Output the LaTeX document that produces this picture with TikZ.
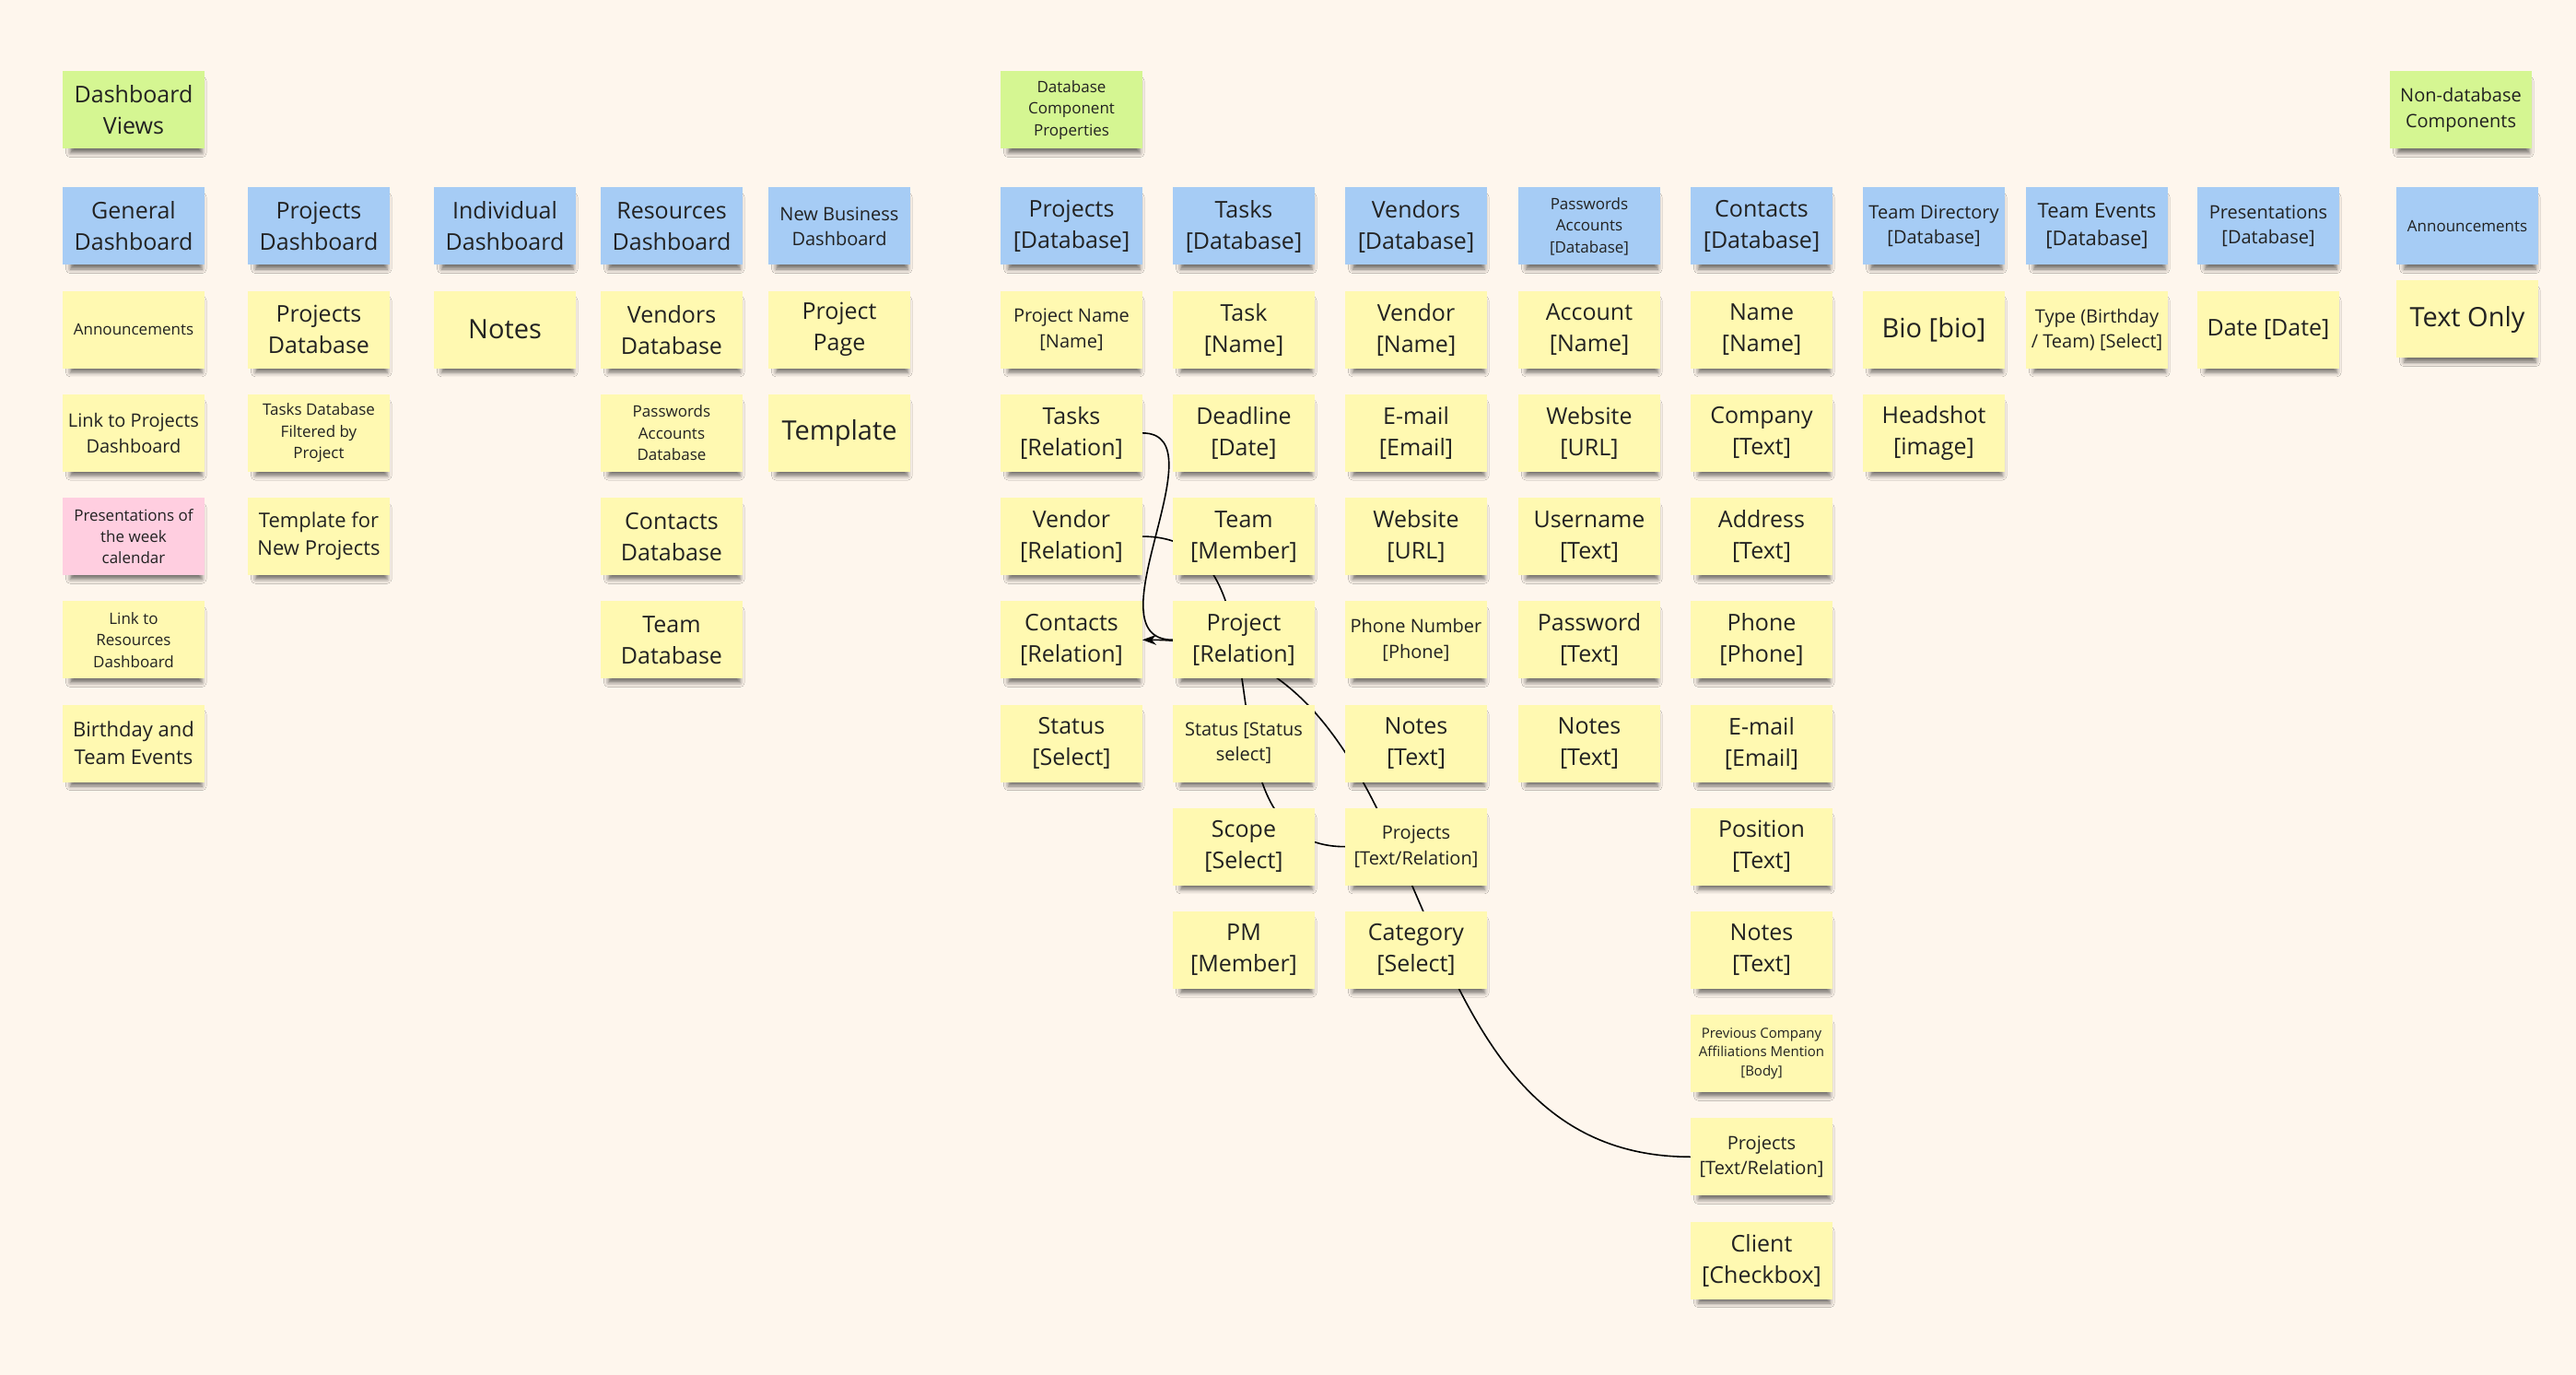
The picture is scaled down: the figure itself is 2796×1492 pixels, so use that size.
\documentclass[tikz,border=0pt]{standalone}
\usepackage{fontspec}
\setmainfont{Open Sans}
\usepackage{tikz}
\usetikzlibrary{positioning, arrows.meta, shadows.blur}
\usepackage{xcolor}

\definecolor{canvas}{RGB}{254,246,237}
\definecolor{stickyyellow}{RGB}{255,249,177}
\definecolor{stickyblue}{RGB}{166,204,245}
\definecolor{stickygreen}{RGB}{213,246,146}
\definecolor{stickypink}{RGB}{255,206,224}
\definecolor{inktext}{RGB}{34,34,34}

\pgfdeclarelayer{bg}
\pgfdeclarelayer{edges}
\pgfsetlayers{bg,edges,main}

\begin{document}
\begin{tikzpicture}[
  x=0.5pt, y=-0.5pt,
  node distance=14.1pt,
  sticky/.style={rectangle, fill=stickyyellow, text=inktext,
    minimum width=77pt, minimum height=42pt, inner sep=1pt, outer sep=0pt,
    align=center, font=\fontsize{12.5pt}{17pt}\selectfont,
    blur shadow={shadow xshift=1.5pt, shadow yshift=-4pt, shadow scale=0.93,
      shadow blur radius=2.5pt, shadow opacity=55}},
  bluenote/.style={sticky, fill=stickyblue},
  greennote/.style={sticky, fill=stickygreen},
  pinknote/.style={sticky, fill=stickypink},
  ftiny/.style={font=\fontsize{7.5pt}{10.2pt}\selectfont},
  fsmall/.style={font=\fontsize{8.5pt}{11.7pt}\selectfont},
  fmid/.style={font=\fontsize{10pt}{13.7pt}\selectfont},
  fmidl/.style={font=\fontsize{11pt}{15pt}\selectfont},
  fhuge/.style={font=\fontsize{14.5pt}{19.5pt}\selectfont},
  link/.style={draw=black, line width=0.8pt},
  >={Stealth[length=7.5pt, width=5.5pt]}
]
  \useasboundingbox (0,0) rectangle (2796,1492);

  % --- dashboard views ---
  \node (dviews) [greennote] at (145,119.5) {Dashboard\\Views};
  \node (gendash) [bluenote, below=21pt of dviews] {General\\Dashboard};
  \node (gannc) [sticky, fsmall, below=of gendash] {Announcements};
  \node (glinkproj) [sticky, fmid, below=of gannc] {Link to Projects\\Dashboard};
  \node (gpres) [pinknote, fsmall, below=of glinkproj] {Presentations of\\the week\\calendar};
  \node (glinkres) [sticky, fsmall, below=of gpres] {Link to\\Resources\\Dashboard};
  \node (gbday) [sticky, fmidl, below=of glinkres] {Birthday and\\Team Events};

  \node (projdash) [bluenote, right=23.5pt of gendash] {Projects\\Dashboard};
  \node (pdb) [sticky, below=of projdash] {Projects\\Database};
  \node (ptasksdb) [sticky, fsmall, below=of pdb] {Tasks Database\\Filtered by\\Project};
  \node (ptemplate) [sticky, fmidl, below=of ptasksdb] {Template for\\New Projects};

  \node (inddash) [bluenote, right=24pt of projdash] {Individual\\Dashboard};
  \node (inotes) [sticky, fhuge, below=of inddash] {Notes};

  \node (resdash) [bluenote, right=13.5pt of inddash] {Resources\\Dashboard};
  \node (rvendors) [sticky, below=of resdash] {Vendors\\Database};
  \node (rpasswords) [sticky, fsmall, below=of rvendors] {Passwords\\Accounts\\Database};
  \node (rcontacts) [sticky, below=of rpasswords] {Contacts\\Database};
  \node (rteam) [sticky, below=of rcontacts] {Team\\Database};

  \node (nbdash) [bluenote, fmid, right=14pt of resdash] {New Business\\Dashboard};
  \node (nbpage) [sticky, below=of nbdash] {Project\\Page};
  \node (nbtemplate) [sticky, fhuge, below=of nbpage] {Template};

  % --- database component properties ---
  \node (projdb) [bluenote, right=49pt of nbdash] {Projects\\{}[Database]};
  \node (dbprops) [greennote, fsmall, above=21pt of projdb] {Database\\Component\\Properties};
  \node (pname) [sticky, fmid, below=of projdb] {Project Name\\{}[Name]};
  \node (ptasks) [sticky, below=of pname] {Tasks\\{}[Relation]};
  \node (pvendor) [sticky, below=of ptasks] {Vendor\\{}[Relation]};
  \node (pcontacts) [sticky, below=of pvendor] {Contacts\\{}[Relation]};
  \node (pstatus) [sticky, below=of pcontacts] {Status\\{}[Select]};

  \node (tasksdb) [bluenote, right=16.5pt of projdb] {Tasks\\{}[Database]};
  \node (tname) [sticky, below=of tasksdb] {Task\\{}[Name]};
  \node (tdeadline) [sticky, below=of tname] {Deadline\\{}[Date]};
  \node (tteam) [sticky, below=of tdeadline] {Team\\{}[Member]};
  \node (tproject) [sticky, below=of tteam] {Project\\{}[Relation]};
  \node (tstatus) [sticky, fmid, below=of tproject] {Status [Status\\select]};
  \node (tscope) [sticky, below=of tstatus] {Scope\\{}[Select]};
  \node (tpm) [sticky, below=of tscope] {PM\\{}[Member]};

  \node (vendorsdb) [bluenote, right=16.5pt of tasksdb] {Vendors\\{}[Database]};
  \node (vname) [sticky, below=of vendorsdb] {Vendor\\{}[Name]};
  \node (vemail) [sticky, below=of vname] {E-mail\\{}[Email]};
  \node (vweb) [sticky, below=of vemail] {Website\\{}[URL]};
  \node (vphone) [sticky, fmid, below=of vweb] {Phone Number\\{}[Phone]};
  \node (vnotes) [sticky, below=of vphone] {Notes\\{}[Text]};
  \node (vprojects) [sticky, fmid, below=of vnotes] {Projects\\{}[Text/Relation]};
  \node (vcategory) [sticky, below=of vprojects] {Category\\{}[Select]};

  \node (passdb) [bluenote, fsmall, right=17pt of vendorsdb] {Passwords\\Accounts\\{}[Database]};
  \node (aname) [sticky, below=of passdb] {Account\\{}[Name]};
  \node (aweb) [sticky, below=of aname] {Website\\{}[URL]};
  \node (auser) [sticky, below=of aweb] {Username\\{}[Text]};
  \node (apass) [sticky, below=of auser] {Password\\{}[Text]};
  \node (anotes) [sticky, below=of apass] {Notes\\{}[Text]};

  \node (contactsdb) [bluenote, right=16.5pt of passdb] {Contacts\\{}[Database]};
  \node (cname) [sticky, below=of contactsdb] {Name\\{}[Name]};
  \node (ccompany) [sticky, below=of cname] {Company\\{}[Text]};
  \node (caddress) [sticky, below=of ccompany] {Address\\{}[Text]};
  \node (cphone) [sticky, below=of caddress] {Phone\\{}[Phone]};
  \node (cemail) [sticky, below=of cphone] {E-mail\\{}[Email]};
  \node (cposition) [sticky, below=of cemail] {Position\\{}[Text]};
  \node (cnotes) [sticky, below=of cposition] {Notes\\{}[Text]};
  \node (cprevious) [sticky, ftiny, below=of cnotes] {Previous Company\\Affiliations Mention\\{}[Body]};
  \node (cprojects) [sticky, fmid, below=of cprevious] {Projects\\{}[Text/Relation]};
  \node (cclient) [sticky, below=of cprojects] {Client\\{}[Checkbox]};

  \node (teamdir) [bluenote, fmid, right=16.5pt of contactsdb] {Team Directory\\{}[Database]};
  \node (dbio) [sticky, fhuge, below=of teamdir] {Bio [bio]};
  \node (dheadshot) [sticky, below=of dbio] {Headshot\\{}[image]};

  \node (teamevents) [bluenote, fmidl, right=11.5pt of teamdir] {Team Events\\{}[Database]};
  \node (etype) [sticky, fmid, below=of teamevents] {Type (Birthday\\/ Team) [Select]};

  \node (presdb) [bluenote, fmid, right=16pt of teamevents] {Presentations\\{}[Database]};
  \node (pdate) [sticky, below=of presdb] {Date [Date]};

  % --- non-database components ---
  \node (annc) [bluenote, fsmall, right=31pt of presdb] {Announcements};
  \node (nondb) [greennote, fmid, above=21pt of annc, xshift=-3.5pt] {Non-database\\Components};
  \node (textonly) [sticky, fhuge, below=8.5pt of annc] {Text Only};

  % --- relations, drawn under the notes ---
  \begin{pgfonlayer}{edges}
    \draw[link] (ptasks.east) .. controls +(87,0) and +(-93,0) .. (tproject.west);
    \draw[link] (pvendor.east) .. controls +(173,0) and +(-173,0) .. (vprojects.west);
    \draw[link, <-] (pcontacts.east) .. controls +(348,0) and +(-348,0) .. (cprojects.west);
  \end{pgfonlayer}

  \begin{pgfonlayer}{bg}
    \fill[canvas] (0,0) rectangle (2796,1492);
  \end{pgfonlayer}
\end{tikzpicture}
\end{document}
